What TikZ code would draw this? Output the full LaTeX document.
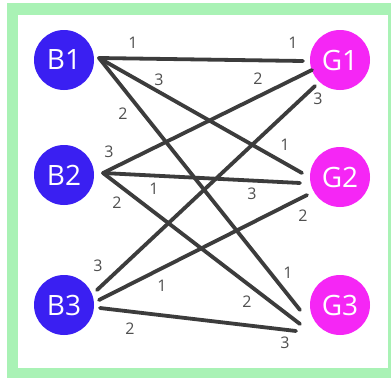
\documentclass[tikz,border=0pt]{standalone}
\usepackage{fontspec}
\setmainfont{Open Sans}
\definecolor{bblue}{HTML}{3A1FF2}
\definecolor{gmag}{HTML}{F526F5}
\definecolor{frame}{HTML}{A9F2B5}
\definecolor{edge}{HTML}{3C3C3C}
\definecolor{lbl}{HTML}{505050}
\tikzset{
  boy/.style={circle, fill=bblue, minimum size=60pt, inner sep=0pt, text=white, font=\fontsize{28}{28}\selectfont},
  girl/.style={circle, fill=gmag, minimum size=60pt, inner sep=0pt, text=white, font=\fontsize{28}{28}\selectfont},
  link/.style={draw=edge, line width=3.8pt, line cap=round},
  wt/.style={text=lbl, font=\fontsize{16}{16}\selectfont, inner sep=0pt}
}
\begin{document}
\begin{tikzpicture}[x=1pt, y=-1pt]
\useasboundingbox (0,0) rectangle (391,378);
\fill[frame] (7,3) rectangle (391,378);
\fill[white] (18,15) rectangle (388,368);
\node[boy] (B1) at (64,60) {B1};
\node[boy] (B2) at (64,175) {B2};
\node[boy] (B3) at (64,305) {B3};
\node[girl] (G1) at (340,60) {G1};
\node[girl] (G2) at (340,177) {G2};
\node[girl] (G3) at (340,305) {G3};
% end points
\coordinate (b1) at (99,58);
\coordinate (b2) at (103,173);
\coordinate (b3a) at (97,290);
\coordinate (b3b) at (99,300);
\coordinate (b3c) at (100,308);
\coordinate (g1a) at (303,61);
\coordinate (g1b) at (312,70);
\coordinate (g1c) at (315,86);
\coordinate (g2a) at (302,173);
\coordinate (g2b) at (300,183);
\coordinate (g2c) at (307,195);
\coordinate (g3a) at (300,310);
\coordinate (g3b) at (300,324);
\coordinate (g3c) at (296,331);
\draw[link] (b1) -- (g1a);
\draw[link] (b1) -- (g2a);
\draw[link] (b1) -- (g3a);
\draw[link] (b2) -- (g1b);
\draw[link] (b2) -- (g2b);
\draw[link] (b2) -- (g3b);
\draw[link] (b3a) -- (g1c);
\draw[link] (b3b) -- (g2c);
\draw[link] (b3c) -- (g3c);
% labels
\node[wt] (l1) at (133,43) {1};
\node[wt] (l2) at (159,80) {3};
\node[wt] (l3) at (123,114) {2};
\node[wt] (l4) at (293,43) {1};
\node[wt] (l5) at (258,79) {2};
\node[wt] (l6) at (318,99) {3};
\node[wt] (l7) at (109,152) {3};
\node[wt] (l8) at (154,189) {1};
\node[wt] (l9) at (117,203) {2};
\node[wt] (l10) at (285,145) {1};
\node[wt] (l11) at (252,194) {3};
\node[wt] (l12) at (303,216) {2};
\node[wt] (l13) at (98,266) {3};
\node[wt] (l14) at (162,286) {1};
\node[wt] (l15) at (130,329) {2};
\node[wt] (l16) at (288,273) {1};
\node[wt] (l17) at (247,302) {2};
\node[wt] (l18) at (285,343) {3};
\end{tikzpicture}
\end{document}
